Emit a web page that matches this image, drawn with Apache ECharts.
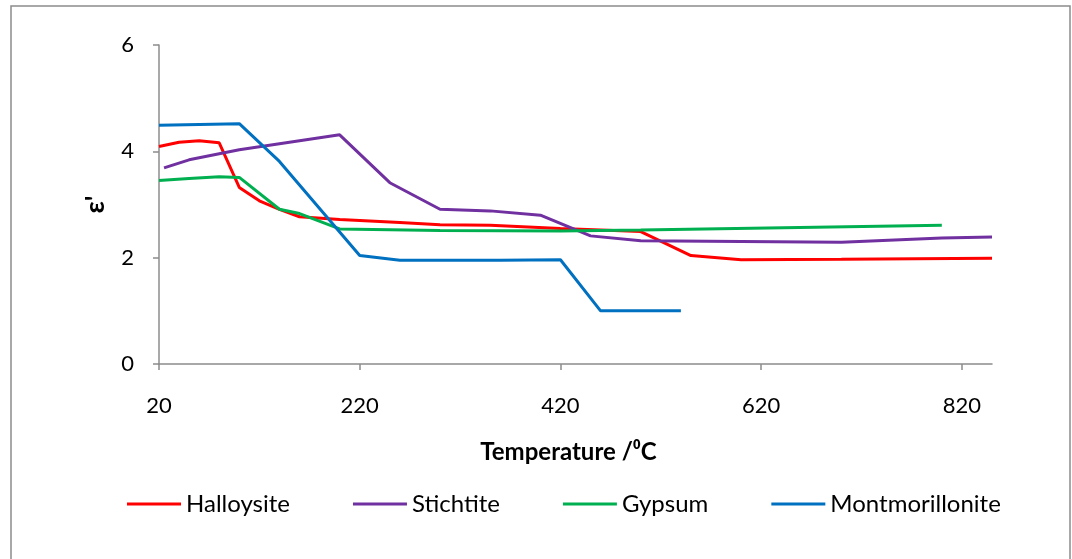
<!DOCTYPE html>
<html>
<head>
<meta charset="utf-8">
<title>Dielectric constant vs temperature</title>
<script src="https://cdn.jsdelivr.net/npm/echarts@6/dist/echarts.min.js"></script>
<style>
  html, body { margin: 0; padding: 0; background: #fff; }
  #chart { width: 1072px; height: 559px; }
</style>
</head>
<body>
<div id="chart"></div>
<script>
// data (temperature in degC, epsilon')
const halloysiteT = [20, 40, 60, 80, 100, 120, 140, 160, 200, 260, 300, 350, 420, 500, 550, 600, 700, 850];
const halloysiteE = [4.09, 4.17, 4.2, 4.16, 3.32, 3.07, 2.91, 2.77, 2.72, 2.66, 2.62, 2.61, 2.55, 2.49, 2.04, 1.96, 1.97, 1.99];

const stichtiteT = [25, 50, 100, 200, 250, 300, 350, 400, 450, 500, 700, 800, 850];
const stichtiteE = [3.69, 3.84, 4.03, 4.31, 3.41, 2.91, 2.88, 2.8, 2.41, 2.32, 2.29, 2.37, 2.39];

const gypsumT = [20, 50, 80, 100, 140, 160, 200, 300, 420, 500, 800];
const gypsumE = [3.45, 3.49, 3.52, 3.51, 2.91, 2.83, 2.54, 2.51, 2.5, 2.52, 2.61];

const montmorilloniteT = [20, 100, 140, 220, 260, 360, 420, 460, 540];
const montmorilloniteE = [4.49, 4.52, 3.81, 2.04, 1.95, 1.95, 1.96, 1.0, 1.0];

const xTicks = [20, 220, 420, 620, 820];
const yTicks = [0, 2, 4, 6];

const pairs = (xs, ys) => xs.map((x, i) => [x, ys[i]]);

const seriesDefs = [
  { name: 'Halloysite', color: '#FF0000', data: pairs(halloysiteT, halloysiteE) },
  { name: 'Stichtite', color: '#7030A0', data: pairs(stichtiteT, stichtiteE) },
  { name: 'Gypsum', color: '#00B050', data: pairs(gypsumT, gypsumE) },
  { name: 'Montmorillonite', color: '#0070C0', data: pairs(montmorilloniteT, montmorilloniteE) }
];

const font = 'Lato, "Open Sans", sans-serif';
const axisGray = '#8c8c8c';

const options = {
  backgroundColor: '#fff',
  animation: false,
  textStyle: { fontFamily: font },
  graphic: [
    {
      type: 'rect',
      shape: { x: 11, y: 6, width: 1059, height: 570 },
      style: { fill: 'none', stroke: '#8c8c8c', lineWidth: 1.5 },
      silent: true
    }
  ],
  grid: { left: 159, top: 45, right: 80, bottom: 195 },
  legend: {
    top: 487,
    left: 122,
    icon: 'rect',
    itemWidth: 54,
    itemHeight: 3,
    itemGap: 63,
    textStyle: { fontSize: 24, color: '#000', fontFamily: font },
    data: seriesDefs.map(s => s.name)
  },
  xAxis: {
    type: 'value',
    min: 20,
    max: 850,
    name: 'Temperature /⁰C',
    nameLocation: 'middle',
    nameGap: 76,
    nameTextStyle: { fontSize: 24, fontWeight: 'bold', color: '#000', fontFamily: font, padding: [0, 14, 0, 0] },
    splitLine: { show: false },
    axisLine: { lineStyle: { color: axisGray, width: 1.5 } },
    axisTick: { show: true, length: 6, customValues: xTicks, lineStyle: { color: axisGray, width: 1.5 } },
    axisLabel: { customValues: xTicks, fontSize: 22, color: '#000', margin: 31, fontFamily: font }
  },
  yAxis: {
    type: 'value',
    min: 0,
    max: 6,
    interval: 2,
    name: "ε'",
    nameLocation: 'middle',
    nameRotate: 90,
    nameGap: 50,
    nameTextStyle: { fontSize: 27, fontWeight: 'bold', color: '#000', fontFamily: font },
    splitLine: { show: false },
    axisLine: { show: true, lineStyle: { color: axisGray, width: 1.5 } },
    axisTick: { show: true, length: 6, customValues: yTicks, lineStyle: { color: axisGray, width: 1.5 } },
    axisLabel: { customValues: yTicks, fontSize: 22, color: '#000', margin: 25, fontFamily: font }
  },
  series: seriesDefs.map(s => ({
    name: s.name,
    type: 'line',
    data: s.data,
    showSymbol: false,
    symbol: 'none',
    lineStyle: { color: s.color, width: 3 },
    itemStyle: { color: s.color }
  }))
};

const chart = echarts.init(document.getElementById('chart'));
chart.setOption(options);
window.addEventListener('resize', () => {
  chart.resize();
});
</script>
</body>
</html>
